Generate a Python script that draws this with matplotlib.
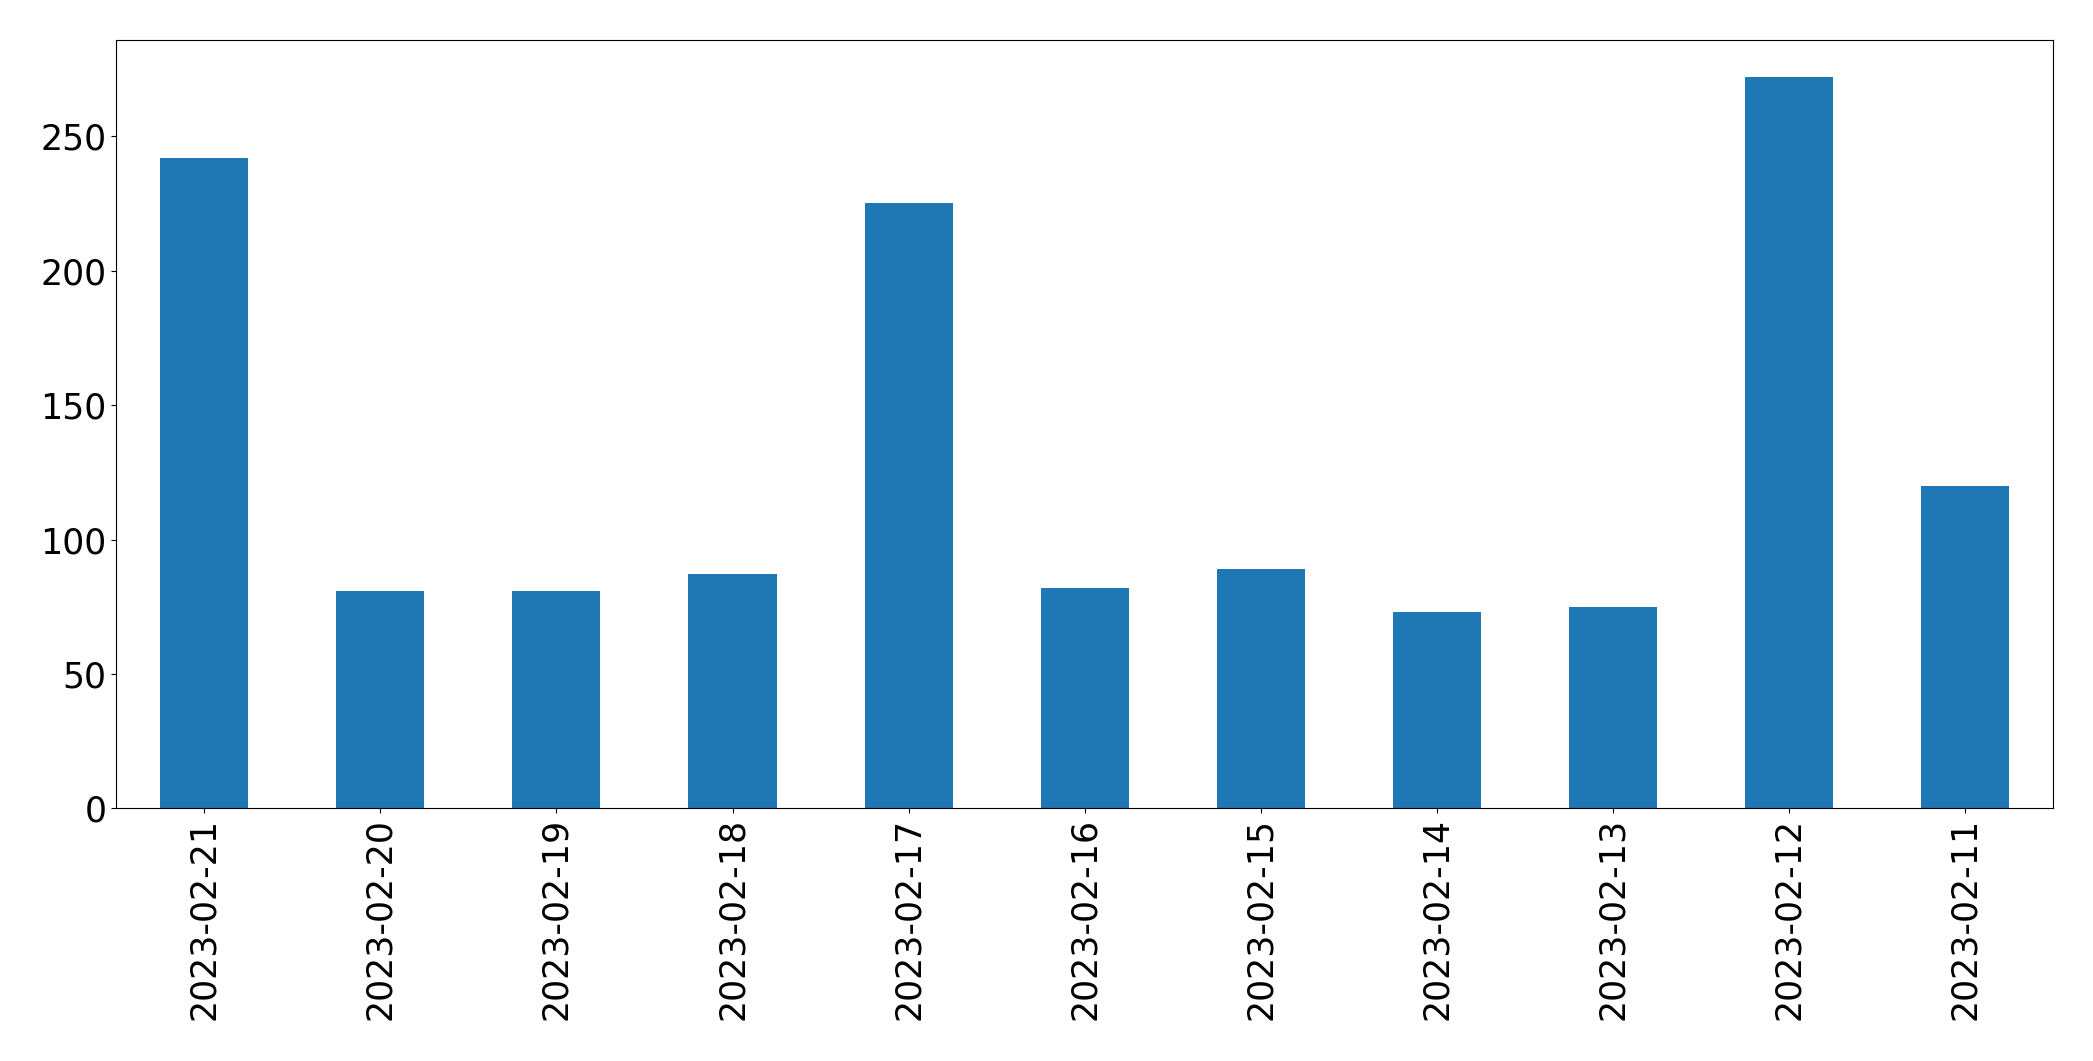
import matplotlib
matplotlib.use("Agg")
import matplotlib.pyplot as plt
import pandas as pd

dates = ["2023-02-21", "2023-02-20", "2023-02-19", "2023-02-18", "2023-02-17",
         "2023-02-16", "2023-02-15", "2023-02-14", "2023-02-13", "2023-02-12",
         "2023-02-11"]
counts = [242, 81, 81, 87, 225, 82, 89, 73, 75, 272, 120]

s = pd.Series(counts, index=dates)

fig, ax = plt.subplots(figsize=(20.93, 10.61), dpi=100)
s.plot(kind="bar", ax=ax, color="#1f77b4")
ax.tick_params(axis="both", labelsize=25)
fig.subplots_adjust(left=0.0555, right=0.981, top=0.962, bottom=0.238)
fig.savefig("out.png", dpi=100)
